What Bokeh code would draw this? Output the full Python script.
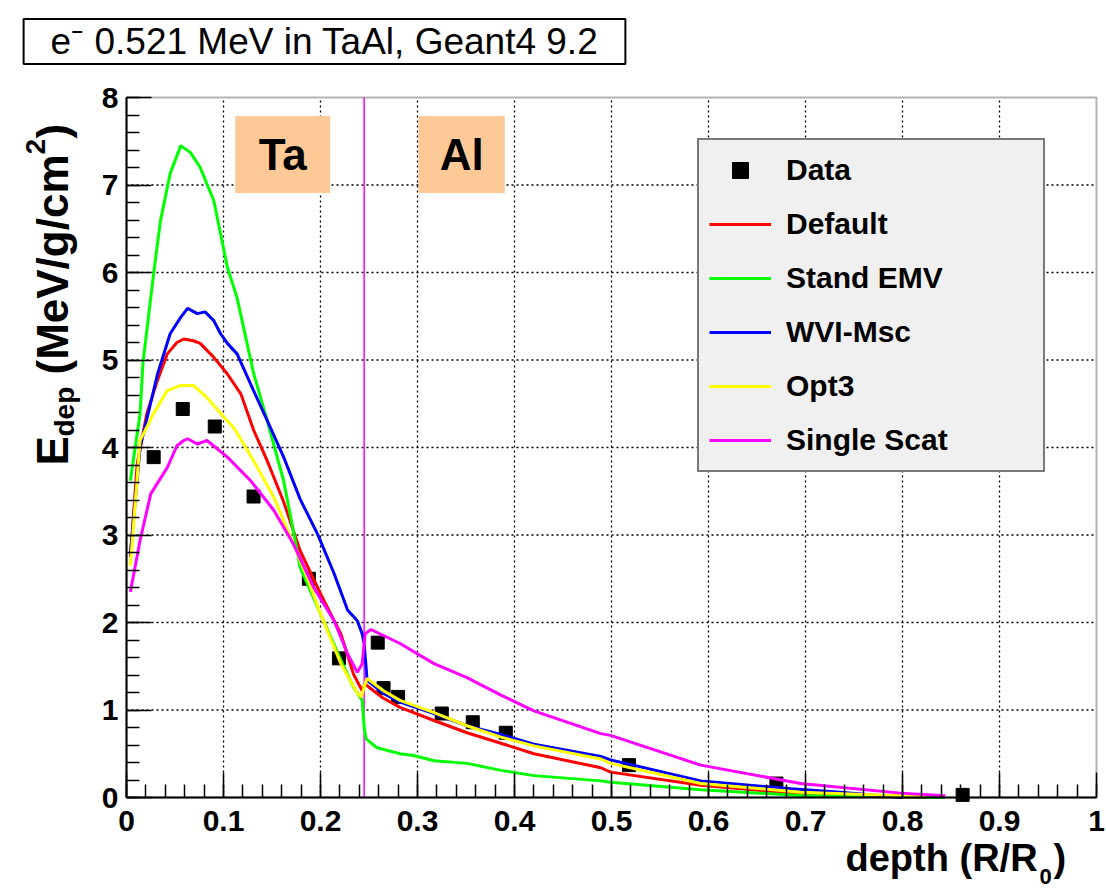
from math import pi
from bokeh.plotting import figure
from bokeh.models import (Range1d, LinearAxis, SingleIntervalTicker, CustomJSTickFormatter,
                          BoxAnnotation, Label, Legend, LegendItem)
from bokeh.embed import file_html
from bokeh.resources import INLINE

# ---------------- data ----------------
data_x = [0.028, 0.058, 0.091, 0.131, 0.188, 0.219, 0.259, 0.265, 0.280, 0.325, 0.357, 0.391, 0.518, 0.670, 0.862]
data_y = [3.89, 4.44, 4.24, 3.44, 2.50, 1.59, 1.77, 1.25, 1.15, 0.96, 0.86, 0.74, 0.37, 0.16, 0.03]

default_x = [0.004, 0.011, 0.021, 0.032, 0.042, 0.052, 0.059, 0.069, 0.076, 0.090, 0.104, 0.118, 0.131, 0.145,
             0.162, 0.179, 0.200, 0.221, 0.234, 0.243, 0.246, 0.250, 0.264, 0.282, 0.317, 0.351, 0.386, 0.420,
             0.489, 0.499, 0.592, 0.695, 0.760, 0.825]
default_y = [2.75, 3.81, 4.39, 4.77, 5.07, 5.20, 5.24, 5.22, 5.19, 5.03, 4.84, 4.61, 4.20, 3.85,
             3.38, 2.82, 2.33, 1.87, 1.41, 1.22, 1.30, 1.26, 1.14, 1.03, 0.88, 0.74, 0.62, 0.50,
             0.34, 0.29, 0.14, 0.04, 0.015, 0.0]

standemv_x = [0.004, 0.014, 0.017, 0.028, 0.035, 0.045, 0.056, 0.066, 0.076, 0.090, 0.104, 0.114, 0.131, 0.145,
              0.162, 0.172, 0.179, 0.200, 0.221, 0.234, 0.243, 0.245, 0.247, 0.258, 0.282, 0.296, 0.317, 0.351,
              0.386, 0.420, 0.489, 0.499, 0.592, 0.695, 0.844]
standemv_y = [3.62, 4.39, 4.97, 5.99, 6.59, 7.13, 7.45, 7.37, 7.20, 6.82, 6.06, 5.71, 4.85, 4.31,
              3.62, 3.05, 2.63, 2.10, 1.57, 1.26, 1.11, 0.80, 0.67, 0.57, 0.50, 0.48, 0.42, 0.39,
              0.31, 0.25, 0.19, 0.175, 0.088, 0.023, 0.0]

wvi_x = [0.004, 0.014, 0.032, 0.045, 0.056, 0.063, 0.073, 0.081, 0.090, 0.097, 0.104, 0.114, 0.131, 0.145,
         0.162, 0.179, 0.197, 0.214, 0.228, 0.238, 0.243, 0.245, 0.247, 0.248, 0.265, 0.282, 0.317, 0.351,
         0.386, 0.420, 0.489, 0.499, 0.592, 0.685, 0.736, 0.800]
wvi_y = [2.78, 4.00, 4.84, 5.30, 5.49, 5.59, 5.53, 5.55, 5.45, 5.30, 5.19, 5.07, 4.65, 4.31,
         3.89, 3.41, 3.01, 2.56, 2.14, 2.02, 1.87, 1.76, 1.49, 1.34, 1.19, 1.09, 0.96, 0.82,
         0.72, 0.61, 0.47, 0.43, 0.19, 0.10, 0.06, 0.0]

opt3_x = [0.004, 0.014, 0.028, 0.042, 0.056, 0.069, 0.083, 0.097, 0.111, 0.131, 0.152, 0.172, 0.186, 0.200,
          0.221, 0.238, 0.242, 0.246, 0.248, 0.265, 0.282, 0.317, 0.351, 0.386, 0.420, 0.489, 0.499, 0.592,
          0.695, 0.825]
opt3_y = [2.65, 4.08, 4.39, 4.65, 4.71, 4.71, 4.57, 4.39, 4.22, 3.85, 3.43, 2.90, 2.52, 2.10,
          1.53, 1.19, 1.15, 1.30, 1.36, 1.22, 1.11, 0.97, 0.82, 0.69, 0.59, 0.44, 0.39, 0.16,
          0.06, 0.01]

single_x = [0.004, 0.014, 0.025, 0.042, 0.052, 0.059, 0.063, 0.073, 0.083, 0.104, 0.128, 0.152, 0.172, 0.193,
            0.214, 0.228, 0.238, 0.243, 0.246, 0.252, 0.282, 0.317, 0.351, 0.386, 0.420, 0.489, 0.499, 0.592,
            0.695, 0.798, 0.844]
single_y = [2.35, 2.94, 3.47, 3.77, 4.02, 4.08, 4.10, 4.04, 4.08, 3.89, 3.62, 3.28, 2.90, 2.40,
            2.02, 1.64, 1.43, 1.53, 1.87, 1.92, 1.76, 1.53, 1.37, 1.17, 0.99, 0.73, 0.71, 0.37,
            0.16, 0.05, 0.02]

interface_x = 0.245

# axis limits and grid ticks
x_min, x_max = 0.0, 1.0
y_min, y_max = 0.0, 8.0
x_grid_ticks = [0.1, 0.2, 0.3, 0.4, 0.5, 0.6, 0.7, 0.8, 0.9]
y_grid_ticks = [1, 2, 3, 4, 5, 6, 7]

# ---------------- layout (pixels) ----------------
W, H = 1106, 891
FRAME_L, FRAME_R, FRAME_T, FRAME_B = 126, 1096, 97, 797
xs = (x_max - x_min) / (FRAME_R - FRAME_L)
ys = (y_max - y_min) / (FRAME_B - FRAME_T)
x_range = Range1d(x_min - FRAME_L * xs, x_max + (W - FRAME_R) * xs)
y_range = Range1d(y_min - (H - FRAME_B) * ys, y_max + FRAME_T * ys)

FONT = "Liberation Sans"
p = figure(width=W, height=H, x_range=x_range, y_range=y_range,
           x_axis_type=None, y_axis_type=None,
           output_backend="svg", toolbar_location=None, title=None, min_border=0)
p.background_fill_color = "white"
p.border_fill_color = "white"
p.outline_line_color = None

fmt = CustomJSTickFormatter(code="return String(Number(tick.toFixed(1)));")
xaxis = LinearAxis(fixed_location=y_min, bounds=(x_min, x_max),
                   ticker=SingleIntervalTicker(interval=0.1, num_minor_ticks=5), formatter=fmt)
yaxis = LinearAxis(fixed_location=x_min, bounds=(y_min, y_max),
                   ticker=SingleIntervalTicker(interval=1, num_minor_ticks=5), formatter=fmt)
for ax in (xaxis, yaxis):
    ax.axis_line_color = "black"
    ax.axis_line_width = 2
    ax.major_tick_in = 25
    ax.major_tick_out = 0
    ax.minor_tick_in = 13
    ax.minor_tick_out = 0
    ax.major_tick_line_color = "black"
    ax.major_tick_line_width = 1.5
    ax.minor_tick_line_color = "black"
    ax.minor_tick_line_width = 1.5
    ax.major_label_text_font = FONT
    ax.major_label_text_font_style = "bold"
    ax.major_label_text_font_size = "30px"
    ax.major_label_text_color = "black"
xaxis.major_label_standoff = 13
yaxis.major_label_standoff = 8

# dotted grid inside the axes box
p.segment(x0=x_grid_ticks, y0=[y_min] * len(x_grid_ticks), x1=x_grid_ticks, y1=[y_max] * len(x_grid_ticks),
          line_color="black", line_dash="2 3", line_width=1.3)
p.segment(x0=[x_min] * len(y_grid_ticks), y0=y_grid_ticks, x1=[x_max] * len(y_grid_ticks), y1=y_grid_ticks,
          line_color="black", line_dash="2 3", line_width=1.3)

# material boxes
p.add_layout(BoxAnnotation(left=0.112, right=0.210, top=7.79, bottom=6.91,
                           fill_color="#FDC996", fill_alpha=1, line_color=None))
p.add_layout(BoxAnnotation(left=0.301, right=0.390, top=7.79, bottom=6.91,
                           fill_color="#FDC996", fill_alpha=1, line_color=None))
p.add_layout(Label(x=0.161, y=7.35, text="Ta", text_font=FONT, text_font_style="bold", text_color="black",
                   text_font_size="44px", text_align="center", text_baseline="middle"))
p.add_layout(Label(x=0.3455, y=7.35, text="Al", text_font=FONT, text_font_style="bold", text_color="black",
                   text_font_size="44px", text_align="center", text_baseline="middle"))

# interface line
p.line([interface_x, interface_x], [y_min, y_max], line_color="#ff00ff", line_width=1.5)

r_data = p.scatter(data_x, data_y, marker="square", size=13, color="black")
r_def = p.line(default_x, default_y, line_color="#ff0000", line_width=3)
r_emv = p.line(standemv_x, standemv_y, line_color="#00ff00", line_width=3)
r_wvi = p.line(wvi_x, wvi_y, line_color="#0000ff", line_width=3)
r_opt = p.line(opt3_x, opt3_y, line_color="#ffff00", line_width=3)
r_ss = p.line(single_x, single_y, line_color="#ff00ff", line_width=3)

# axes box outline
p.add_layout(BoxAnnotation(left=x_min, right=x_max, bottom=y_min, top=y_max,
                           fill_alpha=0, line_color="black", line_width=2))
p.add_layout(xaxis, "below")
p.add_layout(yaxis, "left")

legend = Legend(items=[LegendItem(label="Data", renderers=[r_data]),
                       LegendItem(label="Default", renderers=[r_def]),
                       LegendItem(label="Stand EMV", renderers=[r_emv]),
                       LegendItem(label="WVI-Msc", renderers=[r_wvi]),
                       LegendItem(label="Opt3", renderers=[r_opt]),
                       LegendItem(label="Single Scat", renderers=[r_ss])],
                location=(697, H - 472), orientation="vertical",
                border_line_color="black", border_line_width=2,
                background_fill_color="#f0f0f0", background_fill_alpha=1,
                label_text_font=FONT, label_text_font_style="bold", label_text_font_size="30px",
                label_text_color="black", glyph_width=62, glyph_height=40, label_height=40,
                label_width=247, label_standoff=15, spacing=14, padding=10, margin=0)
p.add_layout(legend)

# title box
p.add_layout(Label(x=324, y=H - 41, x_units="screen", y_units="screen",
                   text="e\u207b 0.521 MeV in TaAl, Geant4 9.2", text_font=FONT, text_color="black",
                   text_font_size="37px", text_align="center", text_baseline="middle",
                   border_line_color="black", border_line_width=2, background_fill_color="white",
                   padding=dict(left=27, right=27, top=2, bottom=2)))

# y-axis label pieces (rotated)
def ylab(text, px, py, size):
    p.add_layout(Label(x=px, y=H - py, x_units="screen", y_units="screen", text=text, angle=pi / 2,
                       text_font=FONT, text_font_style="bold", text_font_size=size, text_color="black",
                       text_align="left", text_baseline="alphabetic"))

ylab("E", 52, 465, "44px")
ylab("dep", 64, 436, "28px")
ylab("(MeV/g/cm", 52, 374, "44px")
ylab("2", 35, 154, "28px")
ylab(")", 52, 138, "44px")

# x-axis label pieces
def xlab(text, px, py, size):
    p.add_layout(Label(x=px, y=H - py, x_units="screen", y_units="screen", text=text,
                       text_font=FONT, text_font_style="bold", text_font_size=size, text_color="black",
                       text_align="left", text_baseline="alphabetic"))

xlab("depth (R/R", 845, 857, "38px")
xlab("0", 1039, 876, "22px")
xlab(")", 1053, 857, "38px")

open("out.html", "w").write(file_html(p, INLINE))
